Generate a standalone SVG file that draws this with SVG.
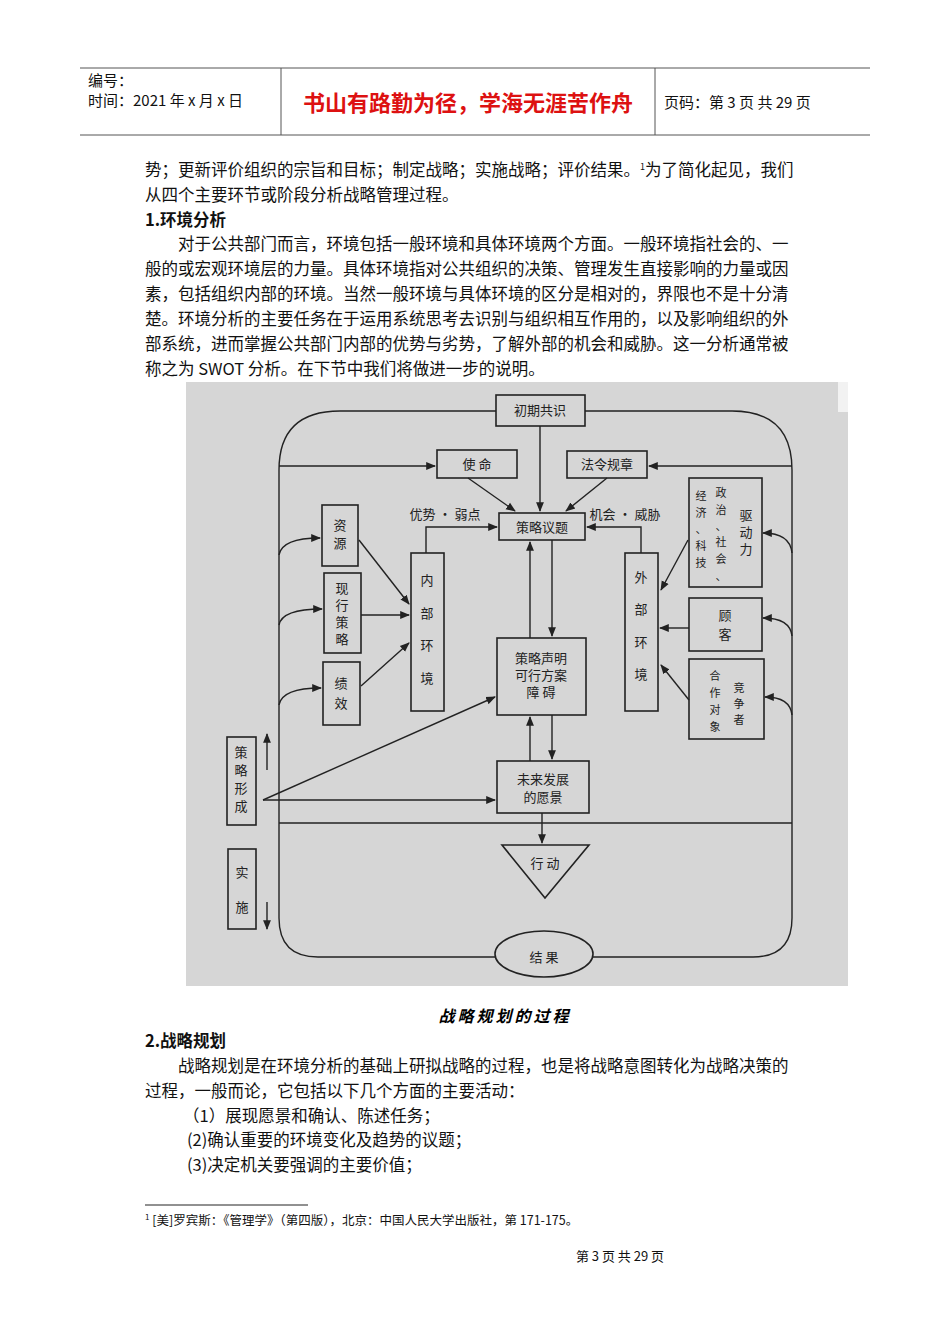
<svg xmlns="http://www.w3.org/2000/svg" width="950" height="1344" viewBox="0 0 950 1344">
<defs>
<marker id="a" viewBox="0 0 10 10" refX="9" refY="5" markerWidth="7" markerHeight="7" orient="auto"><path d="M0,1 L10,5 L0,9 z" fill="#222"/></marker>
<style>
.t{font-family:"Noto Sans CJK SC","Liberation Serif",serif;font-size:16.5px;fill:#111}
.h{font-family:"Noto Sans CJK SC",sans-serif;font-size:15px;fill:#111}
.d{font-family:"Noto Sans CJK SC",serif;font-size:13px;fill:#222}
.s{font-family:"Noto Sans CJK SC",serif;font-size:11px;fill:#222}
.b{fill:none;stroke:#222;stroke-width:1.6}
.l{fill:none;stroke:#222;stroke-width:1.4}
.la{fill:none;stroke:#222;stroke-width:1.4;marker-end:url(#a)}
</style>
</defs>
<rect width="950" height="1344" fill="#fff"/>
<g id="header">
<line x1="80" y1="68" x2="870" y2="68" stroke="#555"/>
<line x1="80" y1="135" x2="870" y2="135" stroke="#555"/>
<line x1="281" y1="68" x2="281" y2="135" stroke="#555"/>
<line x1="655" y1="68" x2="655" y2="135" stroke="#555"/>
<text class="h" x="88" y="86">编号：</text>
<text class="h" x="88" y="106">时间：2021 年 x 月 x 日</text>
<text x="468" y="111" text-anchor="middle" style="font-family:'Noto Sans CJK SC',sans-serif;font-size:22px;font-weight:bold;fill:#d11">书山有路勤为径，学海无涯苦作舟</text>
<text class="h" x="664" y="108">页码：第 3 页  共 29 页</text>
</g>
<g id="body">
<text class="t" x="145" y="176">势；更新评价组织的宗旨和目标；制定战略；实施战略；评价结果。<tspan font-size="9" dy="-6">1</tspan><tspan dy="6">为了简化起见，我们</tspan></text>
<text class="t" x="145" y="201">从四个主要环节或阶段分析战略管理过程。</text>
<text class="t" x="145" y="226" font-weight="bold">1.环境分析</text>
<text class="t" x="178" y="250">对于公共部门而言，环境包括一般环境和具体环境两个方面。一般环境指社会的、一</text>
<text class="t" x="145" y="275">般的或宏观环境层的力量。具体环境指对公共组织的决策、管理发生直接影响的力量或因</text>
<text class="t" x="145" y="300">素，包括组织内部的环境。当然一般环境与具体环境的区分是相对的，界限也不是十分清</text>
<text class="t" x="145" y="325">楚。环境分析的主要任务在于运用系统思考去识别与组织相互作用的，以及影响组织的外</text>
<text class="t" x="145" y="350">部系统，进而掌握公共部门内部的优势与劣势，了解外部的机会和威胁。这一分析通常被</text>
<text class="t" x="145" y="375">称之为 SWOT 分析。在下节中我们将做进一步的说明。</text>
</g>
<rect x="186" y="382" width="662" height="604" fill="#d6d6d6"/>
<g id="connectors">
<path class="l" d="M496,411 H340 Q279,411 279,470 V918 Q279,957 318,957 H495"/>
<path class="l" d="M585,411 H732 Q792,411 792,470 V918 Q792,957 753,957 H593"/>
<path class="la" d="M279,466 H435"/>
<path class="la" d="M792,466 H649"/>
<path class="la" d="M540,426 V511"/>
<path class="la" d="M468,478 L515,511"/>
<path class="la" d="M607,478 L566,511"/>
<path class="la" d="M426,553 V527 H497"/>
<path class="la" d="M641,553 V527 H587"/>
<path class="la" d="M530,638 V542"/>
<path class="la" d="M552,540 V636"/>
<path class="la" d="M359,540 L409,604"/>
<path class="la" d="M361,615 H409"/>
<path class="la" d="M361,686 L409,643"/>
<path class="la" d="M279,555 Q282,538 320,538"/>
<path class="la" d="M279,625 Q282,609 322,609"/>
<path class="la" d="M279,705 Q282,688 321,688"/>
<path class="la" d="M688,540 L661,590"/>
<path class="la" d="M689,628 H660"/>
<path class="la" d="M689,700 L661,665"/>
<path class="la" d="M792,553 Q790,533 763,533"/>
<path class="la" d="M792,636 Q790,618 763,618"/>
<path class="la" d="M792,715 Q790,697 765,697"/>
<path class="la" d="M263,800 L495,697"/>
<path class="la" d="M263,800 H495"/>
<path class="la" d="M530,761 V717"/>
<path class="la" d="M552,715 V759"/>
<path class="l" d="M279,823 H792"/>
<path class="la" d="M542,813 V843"/>
<path class="la" d="M267,770 V734"/>
<path class="la" d="M267,902 V929"/>
</g>
<g id="n-chuqi"><rect class="b" x="496" y="395" width="89" height="31" fill="#d6d6d6"/><text class="d" x="540" y="415" text-anchor="middle">初期共识</text></g>
<g id="n-shiming"><rect class="b" x="437" y="450" width="80" height="28"/><text class="d" x="477" y="469" text-anchor="middle">使  命</text></g>
<g id="n-faling"><rect class="b" x="567" y="451" width="80" height="27"/><text class="d" x="607" y="469" text-anchor="middle">法令规章</text></g>
<g id="n-celue"><rect class="b" x="499" y="513" width="86" height="27"/><text class="d" x="542" y="532" text-anchor="middle">策略议题</text></g>
<text class="d" x="445" y="519" text-anchor="middle">优势 · 弱点</text>
<text class="d" x="625" y="519" text-anchor="middle">机会 · 威胁</text>
<g id="n-ziyuan"><rect class="b" x="322" y="505" width="36" height="61"/><text class="d" x="340" y="530" text-anchor="middle">资</text><text class="d" x="340" y="548" text-anchor="middle">源</text></g>
<g id="n-xianxing"><rect class="b" x="324" y="573" width="37" height="80"/><text class="d" x="342" y="593" text-anchor="middle">现</text><text class="d" x="342" y="610" text-anchor="middle">行</text><text class="d" x="342" y="627" text-anchor="middle">策</text><text class="d" x="342" y="644" text-anchor="middle">略</text></g>
<g id="n-jixiao"><rect class="b" x="323" y="662" width="37" height="63"/><text class="d" x="341" y="688" text-anchor="middle">绩</text><text class="d" x="341" y="708" text-anchor="middle">效</text></g>
<g id="n-neibu"><rect class="b" x="411" y="553" width="33" height="158"/><text class="d" x="427" y="585" text-anchor="middle">内</text><text class="d" x="427" y="618" text-anchor="middle">部</text><text class="d" x="427" y="650" text-anchor="middle">环</text><text class="d" x="427" y="683" text-anchor="middle">境</text></g>
<g id="n-waibu"><rect class="b" x="625" y="553" width="33" height="158"/><text class="d" x="641" y="582" text-anchor="middle">外</text><text class="d" x="641" y="614" text-anchor="middle">部</text><text class="d" x="641" y="647" text-anchor="middle">环</text><text class="d" x="641" y="679" text-anchor="middle">境</text></g>
<g id="n-shengming"><rect class="b" x="497" y="638" width="89" height="77"/><text class="d" x="541" y="663" text-anchor="middle">策略声明</text><text class="d" x="541" y="680" text-anchor="middle">可行方案</text><text class="d" x="541" y="697" text-anchor="middle">障   碍</text></g>
<g id="n-qudong"><rect class="b" x="689" y="478" width="73" height="109"/>
<text class="s" x="701" y="500" text-anchor="middle">经</text><text class="s" x="701" y="517" text-anchor="middle">济</text><text class="s" x="701" y="533" text-anchor="middle">、</text><text class="s" x="701" y="550" text-anchor="middle">科</text><text class="s" x="701" y="567" text-anchor="middle">技</text>
<text class="s" x="721" y="497" text-anchor="middle">政</text><text class="s" x="721" y="514" text-anchor="middle">治</text><text class="s" x="721" y="530" text-anchor="middle">、</text><text class="s" x="721" y="546" text-anchor="middle">社</text><text class="s" x="721" y="563" text-anchor="middle">会</text><text class="s" x="721" y="580" text-anchor="middle">、</text>
<text class="d" x="746" y="520" text-anchor="middle">驱</text><text class="d" x="746" y="537" text-anchor="middle">动</text><text class="d" x="746" y="554" text-anchor="middle">力</text></g>
<g id="n-guke"><rect class="b" x="689" y="598" width="73" height="53"/><text class="d" x="725" y="620" text-anchor="middle">顾</text><text class="d" x="725" y="639" text-anchor="middle">客</text></g>
<g id="n-jingzheng"><rect class="b" x="689" y="659" width="75" height="80"/>
<text class="s" x="715" y="680" text-anchor="middle">合</text><text class="s" x="715" y="697" text-anchor="middle">作</text><text class="s" x="715" y="714" text-anchor="middle">对</text><text class="s" x="715" y="731" text-anchor="middle">象</text>
<text class="s" x="739" y="692" text-anchor="middle">竞</text><text class="s" x="739" y="708" text-anchor="middle">争</text><text class="s" x="739" y="724" text-anchor="middle">者</text></g>
<g id="n-weilai"><rect class="b" x="497" y="761" width="92" height="52"/><text class="d" x="543" y="784" text-anchor="middle">未来发展</text><text class="d" x="543" y="802" text-anchor="middle">的愿景</text></g>
<g id="n-xingdong"><polygon class="b" points="502,845 589,845 545,898"/><text class="d" x="545" y="868" text-anchor="middle">行  动</text></g>
<g id="n-jieguo"><ellipse class="b" cx="544" cy="954" rx="49" ry="23" fill="#d6d6d6"/><text class="d" x="544" y="962" text-anchor="middle">结  果</text></g>
<g id="n-xingcheng"><rect class="b" x="227" y="737" width="29" height="88"/><text class="d" x="241" y="757" text-anchor="middle">策</text><text class="d" x="241" y="775" text-anchor="middle">略</text><text class="d" x="241" y="793" text-anchor="middle">形</text><text class="d" x="241" y="811" text-anchor="middle">成</text></g>
<g id="n-shishi"><rect class="b" x="228" y="849" width="28" height="80"/><text class="d" x="242" y="877" text-anchor="middle">实</text><text class="d" x="242" y="912" text-anchor="middle">施</text></g>
<rect x="838" y="382" width="10" height="30" fill="#f2f2f2"/>
<g id="bottom">
<text x="505" y="1022" text-anchor="middle" style="font-family:'Noto Sans CJK SC',serif;font-size:16px;font-weight:bold;font-style:italic;letter-spacing:3px">战略规划的过程</text>
<text class="t" x="145" y="1047" font-weight="bold">2.战略规划</text>
<text class="t" x="178" y="1072">战略规划是在环境分析的基础上研拟战略的过程，也是将战略意图转化为战略决策的</text>
<text class="t" x="145" y="1097">过程，一般而论，它包括以下几个方面的主要活动：</text>
<text class="t" x="183" y="1122">（1）展现愿景和确认、陈述任务；</text>
<text class="t" x="187" y="1146">(2)确认重要的环境变化及趋势的议题；</text>
<text class="t" x="187" y="1171">(3)决定机关要强调的主要价值；</text>
<line x1="145" y1="1205" x2="308" y2="1205" stroke="#222"/>
<text x="145" y="1225" style="font-family:'Noto Sans CJK SC',serif;font-size:12.5px;fill:#111"><tspan font-size="8" dy="-5">1</tspan><tspan dy="5"> [美]罗宾斯：《管理学》（第四版），北京：中国人民大学出版社，第 171-175。</tspan></text>
<text x="620" y="1261" text-anchor="middle" style="font-family:'Noto Sans CJK SC',serif;font-size:13px;fill:#111">第  3  页  共  29  页</text>
</g>
</svg>
